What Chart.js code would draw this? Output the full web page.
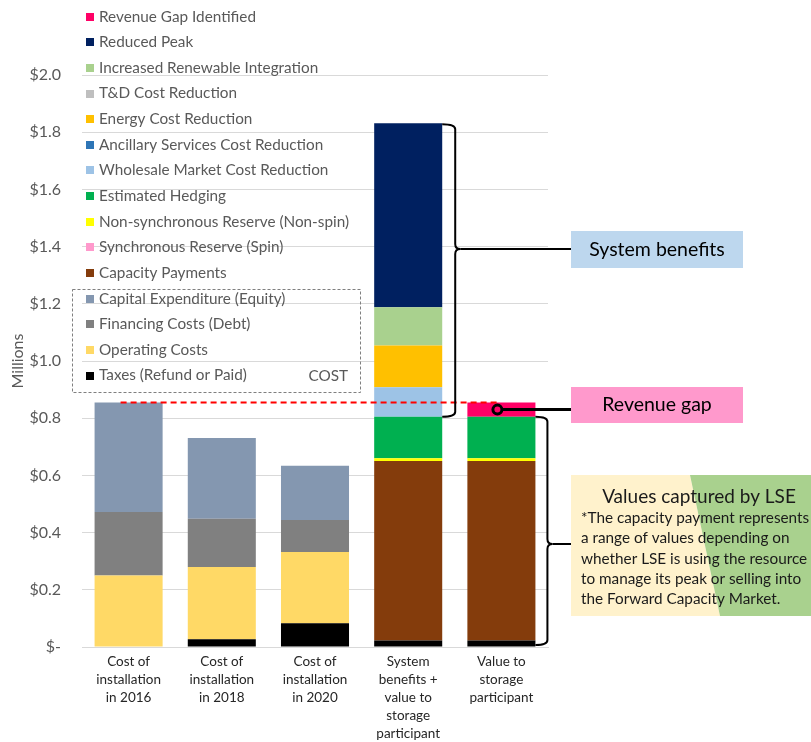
<!DOCTYPE html>
<html>
<head>
<meta charset="utf-8">
<script src="https://cdn.jsdelivr.net/npm/chart.js@4.4.3/dist/chart.umd.min.js"></script>
<style>
  html, body { margin: 0; padding: 0; background: #fff; }
  #wrap { width: 811px; height: 742px; position: relative; }
</style>
</head>
<body>
<div id="wrap"><canvas id="c" width="811" height="742"></canvas></div>
<script>
// categories (multi-line x labels)
const CATEGORIES = [
  ['Cost of', 'installation', 'in 2016'],
  ['Cost of', 'installation', 'in 2018'],
  ['Cost of', 'installation', 'in 2020'],
  ['System', 'benefits +', 'value to', 'storage', 'participant'],
  ['Value to', 'storage', 'participant']
];

// series values in $ millions, stacked bottom -> top
const TAXES      = [0,     0.027, 0.083, 0.023, 0.023];
const OPERATING  = [0.25,  0.253, 0.249, 0,     0];
const FINANCING  = [0.222, 0.168, 0.112, 0,     0];
const CAPEX      = [0.383, 0.283, 0.19,  0,     0];
const CAPACITY   = [0,     0,     0,     0.627, 0.627];
const SPIN       = [0,     0,     0,     0,     0];
const NON_SPIN   = [0,     0,     0,     0.01,  0.01];
const HEDGING    = [0,     0,     0,     0.145, 0.145];
const WHOLESALE  = [0,     0,     0,     0.103, 0];
const ANCILLARY  = [0,     0,     0,     0,     0];
const ENERGY     = [0,     0,     0,     0.146, 0];
const TD         = [0,     0,     0,     0,     0];
const RENEWABLE  = [0,     0,     0,     0.134, 0];
const PEAK       = [0,     0,     0,     0.643, 0];
const GAP        = [0,     0,     0,     0,     0.05];

const Y_MIN = 0, Y_MAX = 2.0, Y_STEP = 0.2;

const series = [
  { label: 'Taxes (Refund or Paid)', data: TAXES, color: '#000000' },
  { label: 'Operating Costs', data: OPERATING, color: '#FFD966' },
  { label: 'Financing Costs (Debt)', data: FINANCING, color: '#808080' },
  { label: 'Capital Expenditure (Equity)', data: CAPEX, color: '#8497B0' },
  { label: 'Capacity Payments', data: CAPACITY, color: '#843C0C' },
  { label: 'Synchronous Reserve (Spin)', data: SPIN, color: '#FF99CC' },
  { label: 'Non-synchronous Reserve (Non-spin)', data: NON_SPIN, color: '#FFFF00' },
  { label: 'Estimated Hedging', data: HEDGING, color: '#00B050' },
  { label: 'Wholesale Market Cost Reduction', data: WHOLESALE, color: '#9DC3E6' },
  { label: 'Ancillary Services Cost Reduction', data: ANCILLARY, color: '#2E75B6' },
  { label: 'Energy Cost Reduction', data: ENERGY, color: '#FFC000' },
  { label: 'T&D Cost Reduction', data: TD, color: '#BFBFBF' },
  { label: 'Increased Renewable Integration', data: RENEWABLE, color: '#A9D18E' },
  { label: 'Reduced Peak', data: PEAK, color: '#002060' },
  { label: 'Revenue Gap Identified', data: GAP, color: '#FF0066' }
];

const FONT = 'Lato, "Open Sans", sans-serif';
Chart.defaults.font.family = FONT;

function stackSum(idx, upTo) {
  let s = 0;
  for (let i = 0; i < upTo; i++) s += series[i].data[idx];
  return s;
}

// legend drawn over the plot, top-down in reverse stack order
const legendRows = {
  id: 'legendRows',
  afterDraw(chart) {
    const ctx = chart.ctx;
    const ds = chart.data.datasets;
    ctx.save();
    ctx.font = '15.3px ' + FONT;
    ctx.textBaseline = 'middle';
    ctx.textAlign = 'left';
    for (let k = 0; k < ds.length; k++) {
      const d = ds[ds.length - 1 - k];
      const y = 16.6 + k * 25.64;
      ctx.fillStyle = d.backgroundColor;
      ctx.fillRect(86, Math.round(y - 4), 8, 8);
      ctx.fillStyle = '#595959';
      ctx.fillText(d.label, 99, y);
    }
    // dashed COST box
    ctx.setLineDash([3, 2]);
    ctx.strokeStyle = '#7F7F7F';
    ctx.lineWidth = 1;
    ctx.strokeRect(72.5, 289.5, 288, 103);
    ctx.setLineDash([]);
    ctx.textAlign = 'right';
    ctx.fillStyle = '#595959';
    ctx.fillText('COST', 348, 376);
    ctx.restore();
  }
};

function brace(ctx, x, w, top, bottom, tipY, toX) {
  const r = 5;
  ctx.beginPath();
  ctx.moveTo(x, top);
  ctx.quadraticCurveTo(x + w, top, x + w, top + r);
  ctx.lineTo(x + w, tipY - r);
  ctx.quadraticCurveTo(x + w, tipY, x + w + r, tipY);
  ctx.quadraticCurveTo(x + w, tipY, x + w, tipY + r);
  ctx.lineTo(x + w, bottom - r);
  ctx.quadraticCurveTo(x + w, bottom, x, bottom);
  ctx.stroke();
  ctx.beginPath();
  ctx.moveTo(x + w + r, tipY);
  ctx.lineTo(toX, tipY);
  ctx.stroke();
}

const callouts = {
  id: 'callouts',
  afterDraw(chart) {
    const ctx = chart.ctx;
    const xs = chart.scales.x, ys = chart.scales.y;
    const bw = chart.getDatasetMeta(0).data[3].width;
    const n = series.length;
    ctx.save();

    // red dashed line at total cost of 2016
    const gapTop = ys.getPixelForValue(stackSum(0, n));
    const cx = xs.getPixelForValue(4) - 4;
    const cy = ys.getPixelForValue(stackSum(4, n - 1) + GAP[4] / 2);
    ctx.strokeStyle = '#FF0000';
    ctx.lineWidth = 2;
    ctx.setLineDash([6, 4]);
    ctx.beginPath();
    ctx.moveTo(xs.getPixelForValue(0) - 8, gapTop);
    ctx.lineTo(cx, gapTop);
    ctx.stroke();
    ctx.setLineDash([]);

    // system benefits brace
    ctx.strokeStyle = '#000';
    ctx.lineWidth = 2;
    const sbRight = xs.getPixelForValue(3) + bw / 2;
    brace(ctx, sbRight, 13, ys.getPixelForValue(stackSum(3, n)) + 1,
      ys.getPixelForValue(stackSum(3, 8)), 249, 571);

    // LSE brace
    const lseRight = xs.getPixelForValue(4) + bw / 2;
    brace(ctx, lseRight, 12, ys.getPixelForValue(stackSum(4, 8)),
      ys.getPixelForValue(0) - 2, 544, 571);

    // revenue gap connector
    ctx.lineWidth = 3;
    ctx.beginPath();
    ctx.moveTo(cx, cy);
    ctx.lineTo(571, cy);
    ctx.stroke();
    ctx.beginPath();
    ctx.arc(cx, cy, 4.5, 0, Math.PI * 2);
    ctx.fillStyle = '#FF0066';
    ctx.fill();
    ctx.stroke();

    // boxes
    ctx.textAlign = 'center';
    ctx.textBaseline = 'middle';
    ctx.fillStyle = '#BDD7EE';
    ctx.fillRect(571, 231, 172, 37);
    ctx.fillStyle = '#FF99CC';
    ctx.fillRect(571, 387, 172, 36);
    ctx.fillStyle = '#000';
    ctx.font = '19.5px ' + FONT;
    ctx.fillText('System benefits', 657, 250);
    ctx.fillText('Revenue gap', 657, 405);

    ctx.fillStyle = '#FFF2CC';
    ctx.beginPath();
    ctx.moveTo(571, 475); ctx.lineTo(690, 475); ctx.lineTo(720, 616); ctx.lineTo(571, 616);
    ctx.closePath(); ctx.fill();
    ctx.fillStyle = '#A9D18E';
    ctx.beginPath();
    ctx.moveTo(690, 475); ctx.lineTo(811, 475); ctx.lineTo(811, 616); ctx.lineTo(720, 616);
    ctx.closePath(); ctx.fill();

    ctx.fillStyle = '#1a1a1a';
    ctx.font = '19px ' + FONT;
    ctx.fillText('Values captured by LSE', 699, 497);
    ctx.font = '15.3px ' + FONT;
    ctx.textAlign = 'left';
    const lines = [
      '*The capacity payment represents',
      'a range of values depending on',
      'whether LSE is using the resource',
      'to manage its peak or selling into',
      'the Forward Capacity Market.'
    ];
    lines.forEach((t, i) => ctx.fillText(t, 581, 518 + i * 20.3));
    ctx.restore();
  }
};

new Chart(document.getElementById('c'), {
  type: 'bar',
  data: {
    labels: CATEGORIES,
    datasets: series.map(s => ({
      label: s.label,
      data: s.data,
      backgroundColor: s.color,
      borderWidth: 0,
      categoryPercentage: 1,
      barPercentage: 0.73
    }))
  },
  options: {
    responsive: false,
    animation: false,
    layout: { padding: { left: 0, right: 263, top: 75, bottom: 0 } },
    plugins: { legend: { display: false }, tooltip: { enabled: false } },
    scales: {
      x: {
        stacked: true,
        grid: { display: false, drawTicks: false },
        border: { display: true, color: '#D9D9D9' },
        ticks: {
          color: '#262626', maxRotation: 0, autoSkip: false, padding: 6,
          font: { size: 13.5, lineHeight: '18px' }
        },
        afterFit(scale) { scale.height = 95; }
      },
      y: {
        stacked: true,
        min: Y_MIN, max: Y_MAX,
        grid: { color: '#D9D9D9', drawTicks: false },
        border: { display: false },
        ticks: {
          stepSize: Y_STEP, padding: 21, color: '#595959',
          font: { size: 16 },
          callback: v => (Math.abs(v) < 1e-9 ? '$-' : '$' + v.toFixed(1))
        },
        title: {
          display: true, text: 'Millions', color: '#595959',
          font: { size: 16 }, padding: { top: 8, bottom: 0 }
        },
        afterFit(scale) { scale.width = 82; }
      }
    }
  },
  plugins: [legendRows, callouts]
});
</script>
</body>
</html>
